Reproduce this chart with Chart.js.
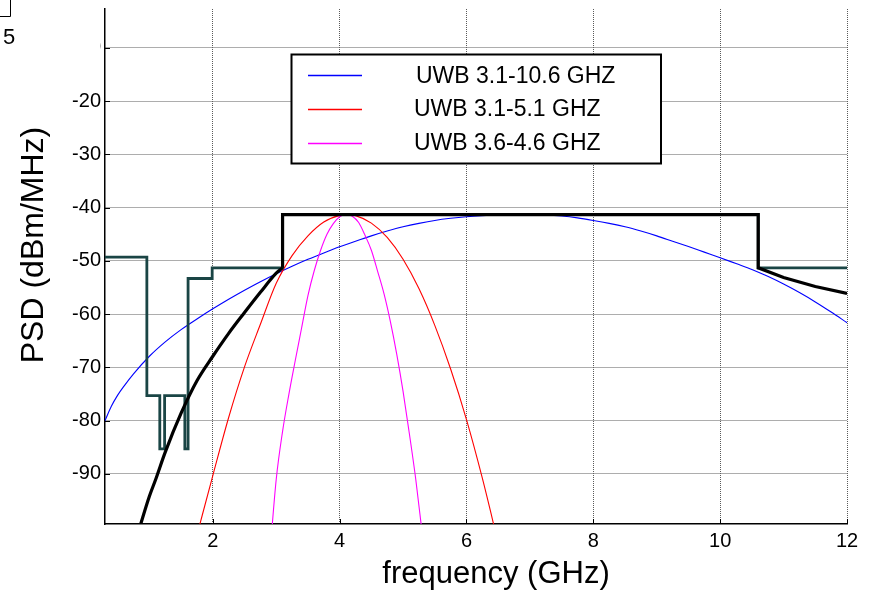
<!DOCTYPE html>
<html><head><meta charset="utf-8">
<script src="https://cdn.jsdelivr.net/npm/chart.js@4.4.1/dist/chart.umd.min.js"></script>
<style>html,body{margin:0;padding:0;background:#fff;}#wrap{width:872px;height:593px;}</style>
</head><body><div id="wrap"><canvas id="c" width="872" height="593"></canvas></div>
<script>
const xTicks = [2, 4, 6, 8, 10, 12];
const yTicks = [-90, -80, -70, -60, -50, -40, -30, -20, -10];

const legendLabels = ['UWB 3.1-10.6 GHZ', 'UWB 3.1-5.1 GHZ', 'UWB 3.6-4.6 GHZ'];
const legendColors = ['#0000ff', '#ff0000', '#ff00ff'];

const maskFreq = [0.3, 0.96, 0.96, 1.164, 1.164, 1.24, 1.24, 1.559, 1.559, 1.61, 1.61, 1.99, 1.99, 3.1, 3.1, 10.6, 10.6, 12];
const maskPsd  = [-49.3, -49.3, -75.3, -75.3, -85.3, -85.3, -75.3, -75.3, -85.3, -85.3, -53.3, -53.3, -51.3, -51.3, -41.3, -41.3, -51.3, -51.3];

const pulseRiseFreq = [0.84, 1.0, 1.1, 1.25, 1.5, 1.75, 2.0, 2.25, 2.5, 2.75, 3.0, 3.1];
const pulseRisePsd  = [-100.3, -94.2, -91.0, -85.9, -78.6, -72.5, -67.9, -63.6, -59.7, -55.9, -52.3, -51.3];
const pulseTopFreq = [3.1, 3.1, 10.6, 10.6, 11.0, 11.5, 12.0];
const pulseTopPsd  = [-51.3, -41.3, -41.3, -51.3, -53.1, -54.8, -56.1];

const blueFreq = [0.3, 0.4, 0.5, 0.6, 0.75, 1.0, 1.25, 1.5, 1.75, 2.0, 2.25, 2.5, 2.75, 3.0, 3.25, 3.5, 3.75, 4.0, 4.25, 4.5, 4.75, 5.0, 5.25, 5.5, 5.75, 6.0, 6.25, 6.5, 6.75, 7.0, 7.25, 7.5, 7.75, 8.0, 8.25, 8.5, 8.75, 9.0, 9.25, 9.5, 9.75, 10.0, 10.25, 10.5, 10.75, 11.0, 11.25, 11.5, 11.75, 12.0];
const bluePsd  = [-80.0, -77.3, -75.2, -73.5, -71.2, -67.9, -65.2, -62.9, -60.9, -59.0, -57.2, -55.5, -53.9, -52.4, -51.0, -49.7, -48.5, -47.35, -46.3, -45.3, -44.4, -43.6, -42.95, -42.4, -42.0, -41.7, -41.5, -41.37, -41.3, -41.3, -41.38, -41.58, -41.92, -42.4, -42.95, -43.6, -44.4, -45.3, -46.3, -47.3, -48.35, -49.4, -50.5, -51.6, -52.9, -54.35, -55.95, -57.7, -59.6, -61.6];

const redFreq = [1.75, 2.0, 2.25, 2.5, 2.75, 3.0, 3.25, 3.5, 3.75, 4.0, 4.12, 4.25, 4.5, 4.75, 5.0, 5.25, 5.5, 5.75, 6.0, 6.25, 6.5];
const redPsd  = [-101.5, -90.3, -79.4, -69.9, -61.9, -54.2, -49.0, -45.3, -42.7, -41.45, -41.3, -41.5, -42.9, -45.6, -49.7, -55.2, -62.1, -70.3, -79.8, -90.8, -103.0];

const magFreq = [2.9, 3.0, 3.1, 3.2, 3.3, 3.4, 3.5, 3.6, 3.7, 3.8, 3.9, 4.0, 4.11, 4.2, 4.3, 4.4, 4.5, 4.6, 4.7, 4.8, 4.9, 5.0, 5.1, 5.2, 5.3];
const magPsd  = [-105.0, -91.0, -82.0, -75.0, -68.7, -62.6, -56.5, -51.8, -48.0, -45.0, -43.0, -41.7, -41.3, -41.6, -42.8, -45.2, -48.0, -52.0, -56.2, -61.4, -67.5, -74.5, -82.5, -91.0, -101.0];

const FONT = "'Liberation Sans', Arial, Helvetica, sans-serif";
const pts = (xs, ys) => xs.map((x, i) => ({ x: x, y: ys[i] }));

const overlay = {
  id: 'overlay',
  afterDraw(chart) {
    const ctx = chart.ctx;
    const a = chart.chartArea;
    const xs = chart.scales.x, ys = chart.scales.y;
    ctx.save();
    ctx.setLineDash([]);
    // inside tick marks
    ctx.strokeStyle = '#000';
    ctx.lineWidth = 1;
    ctx.beginPath();
    xTicks.forEach(v => {
      const px = Math.round(xs.getPixelForValue(v)) + 0.5;
      ctx.moveTo(px, a.bottom); ctx.lineTo(px, a.bottom - 5);
    });
    yTicks.forEach(v => {
      const py = Math.round(ys.getPixelForValue(v)) + 0.5;
      ctx.moveTo(a.left, py); ctx.lineTo(a.left + 5, py);
    });
    ctx.stroke();

    // partially hidden -10 label
    ctx.save();
    ctx.beginPath();
    ctx.rect(100, 20, 10, 50);
    ctx.clip();
    ctx.fillStyle = '#000';
    ctx.font = '20px ' + FONT;
    ctx.textAlign = 'right';
    ctx.textBaseline = 'middle';
    ctx.fillText('-10', a.left - 4, ys.getPixelForValue(-10));
    ctx.restore();

    // legend
    const lx = 291.5, ly = 54.5, lw = 369.5, lh = 109;
    ctx.fillStyle = '#ffffff';
    ctx.fillRect(lx, ly, lw, lh);
    ctx.strokeStyle = '#000000';
    ctx.lineWidth = 2;
    ctx.strokeRect(lx, ly, lw, lh);
    const lineY = [75.5, 109.5, 143.5];
    const textX = [416, 414, 414];
    const baseY = [82.5, 116, 149.5];
    for (let i = 0; i < 3; i++) {
      ctx.beginPath();
      ctx.moveTo(308, lineY[i]);
      ctx.lineTo(362, lineY[i]);
      ctx.lineWidth = 1.3;
      ctx.strokeStyle = legendColors[i];
      ctx.stroke();
    }
    ctx.font = '23px ' + FONT;
    ctx.textAlign = 'left';
    ctx.textBaseline = 'alphabetic';
    ctx.fillStyle = '#000000';
    for (let i = 0; i < 3; i++) {
      ctx.fillText(legendLabels[i], textX[i], baseY[i]);
    }

    // axis titles
    ctx.fillStyle = '#000';
    ctx.font = '31px ' + FONT;
    ctx.textAlign = 'center';
    ctx.textBaseline = 'alphabetic';
    ctx.fillText('frequency (GHz)', 496, 583);
    ctx.save();
    ctx.translate(43, 245);
    ctx.rotate(-Math.PI / 2);
    ctx.font = '32px ' + FONT;
    ctx.fillText('PSD (dBm/MHz)', 0, 0);
    ctx.restore();

    // cropped remnant at the top-left
    ctx.font = '22px ' + FONT;
    ctx.textAlign = 'left';
    ctx.fillText('5', 3, 44);
    ctx.strokeStyle = '#000';
    ctx.lineWidth = 1;
    ctx.beginPath();
    ctx.moveTo(0, 16.5); ctx.lineTo(10.5, 16.5); ctx.lineTo(10.5, 0);
    ctx.stroke();
    ctx.restore();
  }
};

new Chart(document.getElementById('c'), {
  type: 'line',
  data: {
    datasets: [
      { label: 'mask', data: pts(maskFreq, maskPsd), borderColor: '#1a4545', borderWidth: 2.8, tension: 0, order: 3, borderJoinStyle: 'miter' },
      { label: 'pulse rise', data: pts(pulseRiseFreq, pulseRisePsd), borderColor: '#000000', borderWidth: 3.2, cubicInterpolationMode: 'monotone', order: 1 },
      { label: 'pulse top', data: pts(pulseTopFreq, pulseTopPsd), borderColor: '#000000', borderWidth: 3.2, tension: 0, order: 2, borderJoinStyle: 'miter' },
      { label: legendLabels[0], data: pts(blueFreq, bluePsd), borderColor: legendColors[0], borderWidth: 1.1, cubicInterpolationMode: 'monotone', order: 6 },
      { label: legendLabels[1], data: pts(redFreq, redPsd), borderColor: legendColors[1], borderWidth: 1.1, cubicInterpolationMode: 'monotone', order: 5 },
      { label: legendLabels[2], data: pts(magFreq, magPsd), borderColor: legendColors[2], borderWidth: 1.1, cubicInterpolationMode: 'monotone', order: 4 }
    ]
  },
  options: {
    responsive: false,
    animation: false,
    devicePixelRatio: 1,
    layout: { padding: { left: 0, right: 25, top: 9, bottom: 0 } },
    elements: { point: { radius: 0, hoverRadius: 0 } },
    plugins: { legend: { display: false }, tooltip: { enabled: false } },
    datasets: { line: { clip: 0, fill: false } },
    scales: {
      x: {
        type: 'linear', min: 0.3, max: 12,
        afterBuildTicks: s => { s.ticks = xTicks.map(v => ({ value: v })); },
        afterFit: s => { s.height = 69; s.paddingLeft = 0; s.paddingRight = 0; },
        ticks: { color: '#000', font: { size: 20, family: FONT }, padding: 5, maxRotation: 0, autoSkip: false },
        grid: { color: '#5a5a5a', lineWidth: 1, drawTicks: false },
        border: { display: true, color: '#000', width: 1.5, dash: [1, 1] }
      },
      y: {
        type: 'linear', min: -99.4, max: -2.7,
        afterBuildTicks: s => { s.ticks = yTicks.map(v => ({ value: v })); },
        afterFit: s => { s.width = 105; s.paddingTop = 0; s.paddingBottom = 0; },
        ticks: { color: '#000', font: { size: 20, family: FONT }, padding: 4, autoSkip: false,
          callback: v => (v === -10 ? '' : String(v)) },
        grid: { color: '#5a5a5a', lineWidth: 1, drawTicks: false },
        border: { display: true, color: '#000', width: 1.5, dash: [1, 1] }
      }
    }
  },
  plugins: [overlay]
});
</script>
</body></html>
